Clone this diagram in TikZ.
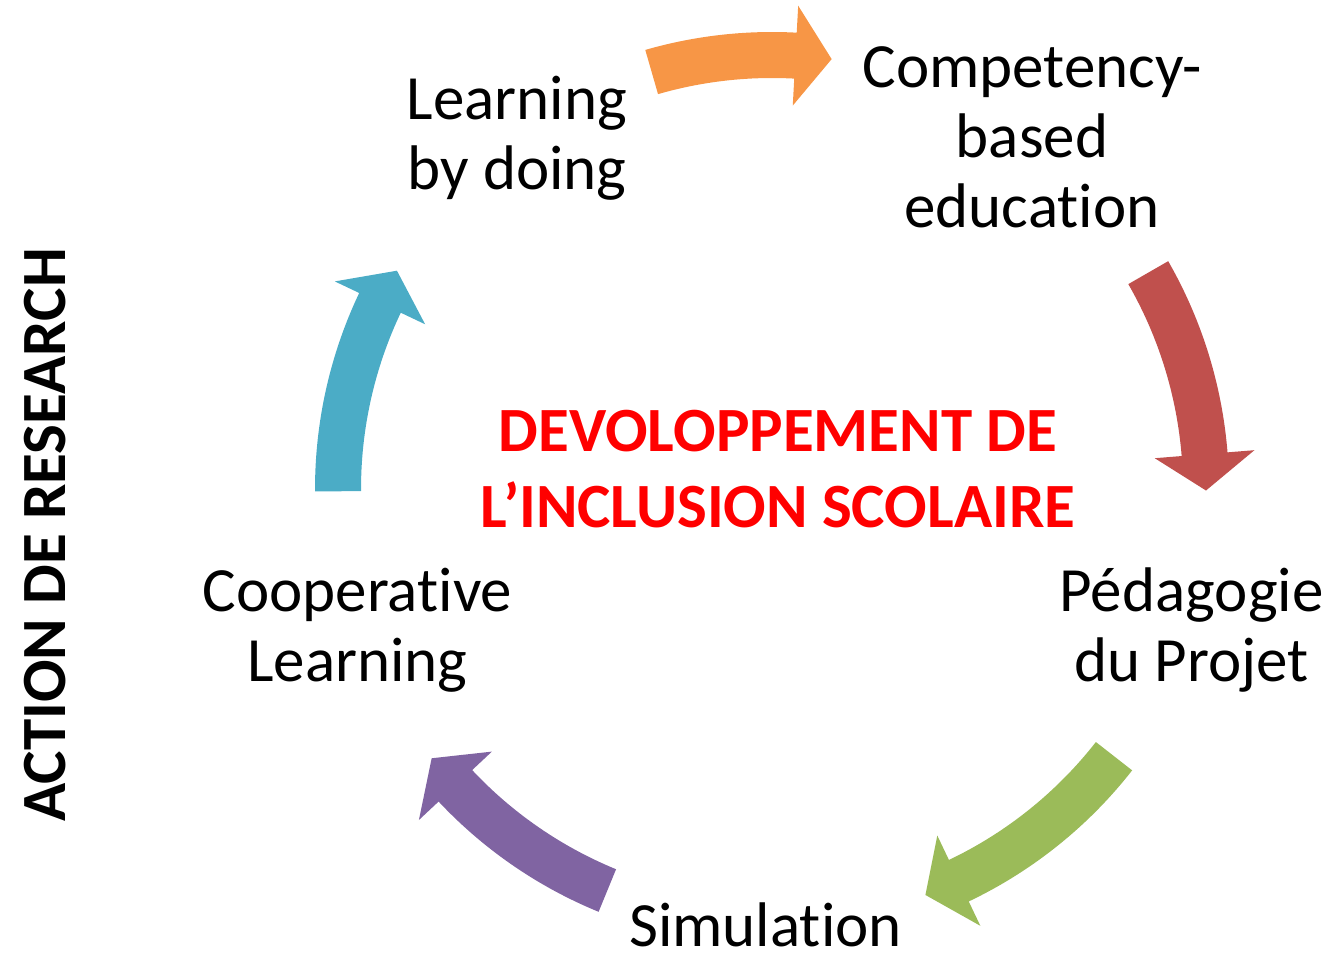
\documentclass[tikz,border=0pt]{standalone}
\usepackage{fontspec}
\setmainfont{Carlito}[Ligatures={NoCommon,NoRare}]
\definecolor{arrOrange}{HTML}{F79646}
\definecolor{arrRed}{HTML}{C0504D}
\definecolor{arrGreen}{HTML}{9BBB59}
\definecolor{arrPurple}{HTML}{8064A2}
\definecolor{arrBlue}{HTML}{4BACC6}
\definecolor{titleRed}{HTML}{FF0000}
% circular arrow band: #1 colour, #2 tail angle, #3 tip angle (clockwise)
\newcommand\mycycarrow[3]{%
  \fill[#1, shift={(c)}] (#2:457) arc[start angle=#2, end angle=#3+4.8, radius=457]
    -- (#3+4.8:484) -- (#3:434) -- (#3+4.8:384) -- (#3+4.8:411)
    arc[start angle=#3+4.8, end angle=#2, radius=411] -- cycle;}
\begin{document}
\begin{tikzpicture}[x=1pt,y=1pt,
  lbl/.style={inner sep=0pt, anchor=base, font=\fontsize{63}{70}\selectfont},
  title/.style={inner sep=0pt, anchor=base, text=titleRed, font=\bfseries\fontsize{63}{76}\selectfont},
  side/.style={inner sep=0pt, anchor=base, rotate=90, font=\bfseries\fontsize{63}{76}\selectfont}]
\useasboundingbox (0,0) rectangle (1332,953);
\coordinate (c) at (772,464);
% arrows
\mycycarrow{arrOrange}{106.1}{82.1}
\mycycarrow{arrRed}{29.9}{-0.2}
\mycycarrow{arrGreen}{-38}{-69.3}
\mycycarrow{arrPurple}{-112.3}{-141.65}
\mycycarrow{arrBlue}{180.3}{149.8}
% labels
\node[lbl] (learn) at (517,833) {\begin{tabular}[t]{@{}c@{}}Learning\\by doing\end{tabular}};
\node[lbl] (comp) at (1032,865) {\begin{tabular}[t]{@{}c@{}}Competency-\\based\\education\end{tabular}};
\node[lbl] (peda) at (1191.5,341) {\begin{tabular}[t]{@{}c@{}}Pédagogie\\du Projet\end{tabular}};
\node[lbl] (simu) at (765.5,7) {Simulation};
\node[lbl] (coop) at (357.5,341) {\begin{tabular}[t]{@{}c@{}}Cooperative\\Learning\end{tabular}};
\node[title] (center) at (778,501) {\begin{tabular}[t]{@{}c@{}}DEVOLOPPEMENT DE\\L’INCLUSION SCOLAIRE\end{tabular}};
\node[side] (action) at (65,418) {ACTION DE RESEARCH};
\end{tikzpicture}
\end{document}
